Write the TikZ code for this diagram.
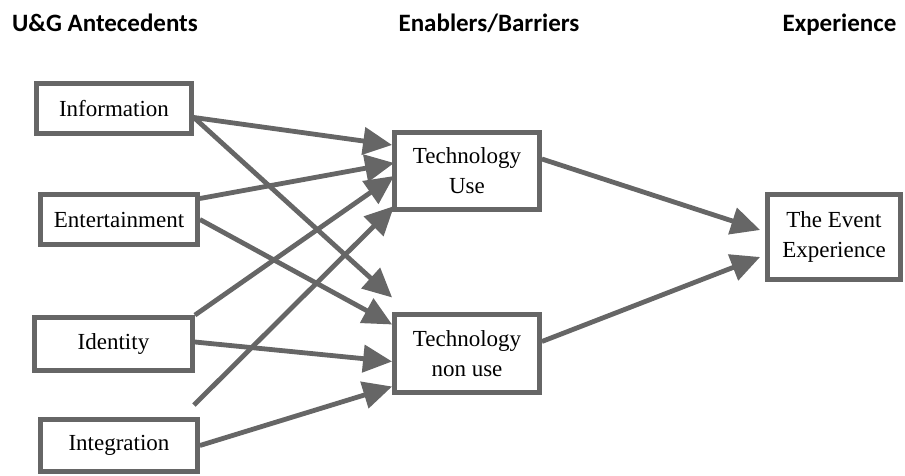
\documentclass[tikz,border=0pt]{standalone}
\usepackage{fontspec}
\setmainfont{Liberation Serif}
\newfontfamily\headfont{Carlito}
\usepackage{tikz}
\usetikzlibrary{arrows.meta}
\definecolor{linegray}{HTML}{666666}

\begin{document}
\begin{tikzpicture}[x=1pt,y=-1pt,>/.tip={Triangle[length=29pt,width=27pt]},
	box/.style={draw=linegray,line width=4.8pt,fill=white,align=center,inner sep=2pt,font=\fontsize{23}{30}\selectfont},
	head/.style={anchor=base,font=\headfont\bfseries\fontsize{25}{30}\selectfont},
	every edge/.style={draw=linegray,line width=4.8pt}]
	\useasboundingbox (0,0) rectangle (905,476);
	% column headings
	\draw (105,32) node (hant) [head] {U\&G Antecedents};
	\draw (489,32) node (henb) [head] {Enablers/Barriers};
	\draw (839.5,32) node (hexp) [head] {Experience};
	% antecedents
	\draw (114,108.5) node (info) [box,minimum width=155pt,minimum height=50pt] {Information};
	\draw (119,219.5) node (ent) [box,minimum width=157pt,minimum height=50pt] {Entertainment};
	\draw (113.5,344) node (ident) [box,minimum width=158pt,minimum height=53pt] {Identity};
	\draw (119,445.5) node (integ) [box,minimum width=157pt,minimum height=52pt] {Integration};
	% enablers / barriers
	\draw (467,171) node (use) [box,minimum width=145pt,minimum height=77pt] {Technology\\Use};
	\draw (467,353.5) node (nonuse) [box,minimum width=145pt,minimum height=78pt] {Technology\\non use};
	% outcome
	\draw (834,237) node (event) [box,minimum width=133pt,minimum height=85pt] {The Event\\Experience};
	% into technology use
	\path[->] ([yshift=-9pt]info.east) edge ([yshift=26pt]use.west);
	\path[->] ([yshift=21pt]ent.east) edge ([xshift=2pt,yshift=8pt]use.west);
	\path[->] (ident.north east) edge ([xshift=2pt,yshift=-5pt]use.west);
	\path[->] ([xshift=-6pt,yshift=12pt]integ.north east) edge ([xshift=2pt,yshift=-35pt]use.west);
	% into technology non use
	\path[->] ([yshift=-9pt]info.east) edge ([yshift=56pt]nonuse.west);
	\path[->] (ent.east) edge ([yshift=29pt]nonuse.west);
	\path[->] ([yshift=2pt]ident.east) edge ([yshift=-8pt]nonuse.west);
	\path[->] (integ.east) edge ([yshift=-33pt]nonuse.west);
	% to the event experience
	\path[->] ([yshift=12pt]use.east) edge ([xshift=-5pt,yshift=7pt]event.west);
	\path[->] ([yshift=12pt]nonuse.east) edge ([xshift=-5pt,yshift=-20pt]event.west);
\end{tikzpicture}
\end{document}
